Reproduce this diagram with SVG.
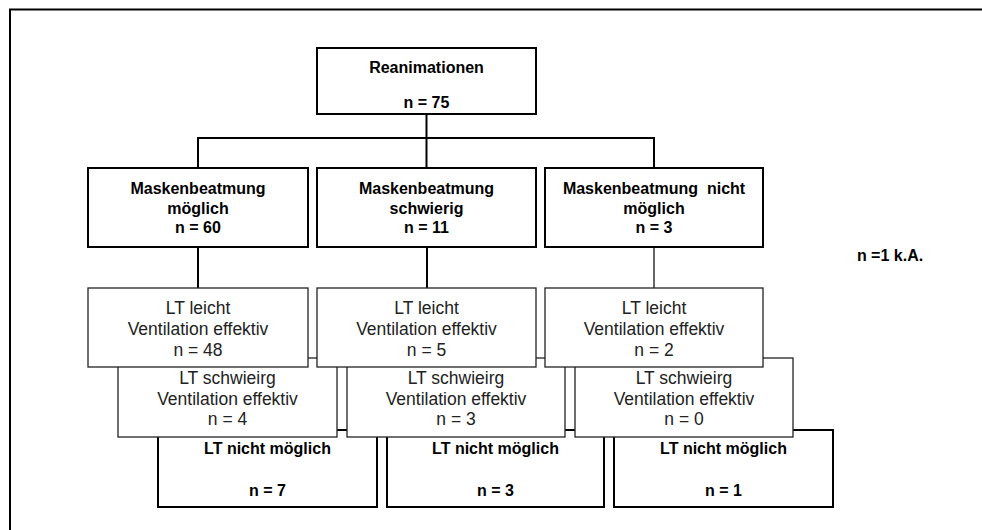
<svg xmlns="http://www.w3.org/2000/svg" width="982" height="530" viewBox="0 0 982 530">
<style>
  .frame{fill:none;stroke:#000;stroke-width:2}
  .bold{fill:#fff;stroke:#000;stroke-width:2}
  .thin{fill:#fff;stroke:#222;stroke-width:1.3}
  .c{fill:none;stroke:#000;stroke-width:2}
  .c1{fill:none;stroke:#000;stroke-width:1.2}
  .tb{font-family:"Liberation Sans",Arial,sans-serif;font-size:16px;font-weight:bold;fill:#000;text-anchor:middle;white-space:pre}
  .tr{font-family:"Liberation Sans",Arial,sans-serif;font-size:17.5px;fill:#222;text-anchor:middle}
</style>
<rect width="982" height="530" fill="#fff"/>
<path class="frame" d="M10,535 V9.5 H990"/>

<g id="connectors">
  <path class="c" d="M426.5,114 V168"/>
  <path class="c" d="M198,168 V138 H654 V168"/>
  <path class="c" d="M198,247 V288"/>
  <path class="c" d="M427,247 V288"/>
  <path class="c1" d="M654,247 V288"/>
</g>

<g id="reanimationen">
  <rect class="bold" x="317" y="48" width="219" height="66"/>
  <text class="tb" x="426.5" y="73">Reanimationen</text>
  <text class="tb" x="426.5" y="108">n = 75</text>
</g>

<g id="mb-moeglich">
  <rect class="bold" x="88" y="168" width="220" height="79"/>
  <text class="tb" x="198" y="194">Maskenbeatmung</text>
  <text class="tb" x="198" y="214">möglich</text>
  <text class="tb" x="198" y="233">n = 60</text>
</g>
<g id="mb-schwierig">
  <rect class="bold" x="317" y="168" width="219" height="79"/>
  <text class="tb" x="426.5" y="194">Maskenbeatmung</text>
  <text class="tb" x="426.5" y="214">schwierig</text>
  <text class="tb" x="426.5" y="233">n = 11</text>
</g>
<g id="mb-nicht-moeglich">
  <rect class="bold" x="545" y="168" width="218" height="79"/>
  <text class="tb" x="654" y="194">Maskenbeatmung  nicht</text>
  <text class="tb" x="654" y="214">möglich</text>
  <text class="tb" x="654" y="233">n = 3</text>
</g>

<g id="lt-nicht-1">
  <rect class="bold" x="158" y="430" width="219" height="77"/>
  <text class="tb" x="267.5" y="454">LT nicht möglich</text>
  <text class="tb" x="267.5" y="496">n = 7</text>
</g>
<g id="lt-nicht-2">
  <rect class="bold" x="387" y="430" width="217" height="77"/>
  <text class="tb" x="495.5" y="454">LT nicht möglich</text>
  <text class="tb" x="495.5" y="496">n = 3</text>
</g>
<g id="lt-nicht-3">
  <rect class="bold" x="614" y="430" width="219" height="77"/>
  <text class="tb" x="723.5" y="454">LT nicht möglich</text>
  <text class="tb" x="723.5" y="496">n = 1</text>
</g>

<g id="lt-schwierig-1">
  <rect class="thin" x="118" y="358" width="219" height="79"/>
  <text class="tr" x="227.5" y="384">LT schwieirg</text>
  <text class="tr" x="227.5" y="404.5">Ventilation effektiv</text>
  <text class="tr" x="227.5" y="425">n = 4</text>
</g>
<g id="lt-schwierig-2">
  <rect class="thin" x="347" y="358" width="218" height="79"/>
  <text class="tr" x="456" y="384">LT schwieirg</text>
  <text class="tr" x="456" y="404.5">Ventilation effektiv</text>
  <text class="tr" x="456" y="425">n = 3</text>
</g>
<g id="lt-schwierig-3">
  <rect class="thin" x="575" y="358" width="218" height="79"/>
  <text class="tr" x="684" y="384">LT schwieirg</text>
  <text class="tr" x="684" y="404.5">Ventilation effektiv</text>
  <text class="tr" x="684" y="425">n = 0</text>
</g>

<g id="lt-leicht-1">
  <rect class="thin" x="88" y="288" width="220" height="79"/>
  <text class="tr" x="198" y="314">LT leicht</text>
  <text class="tr" x="198" y="335">Ventilation effektiv</text>
  <text class="tr" x="198" y="356">n = 48</text>
</g>
<g id="lt-leicht-2">
  <rect class="thin" x="317" y="288" width="219" height="79"/>
  <text class="tr" x="426.5" y="314">LT leicht</text>
  <text class="tr" x="426.5" y="335">Ventilation effektiv</text>
  <text class="tr" x="426.5" y="356">n = 5</text>
</g>
<g id="lt-leicht-3">
  <rect class="thin" x="545" y="288" width="218" height="79"/>
  <text class="tr" x="654" y="314">LT leicht</text>
  <text class="tr" x="654" y="335">Ventilation effektiv</text>
  <text class="tr" x="654" y="356">n = 2</text>
</g>

<g id="ka">
  <text class="tb" x="890" y="261">n =1 k.A.</text>
</g>
</svg>
